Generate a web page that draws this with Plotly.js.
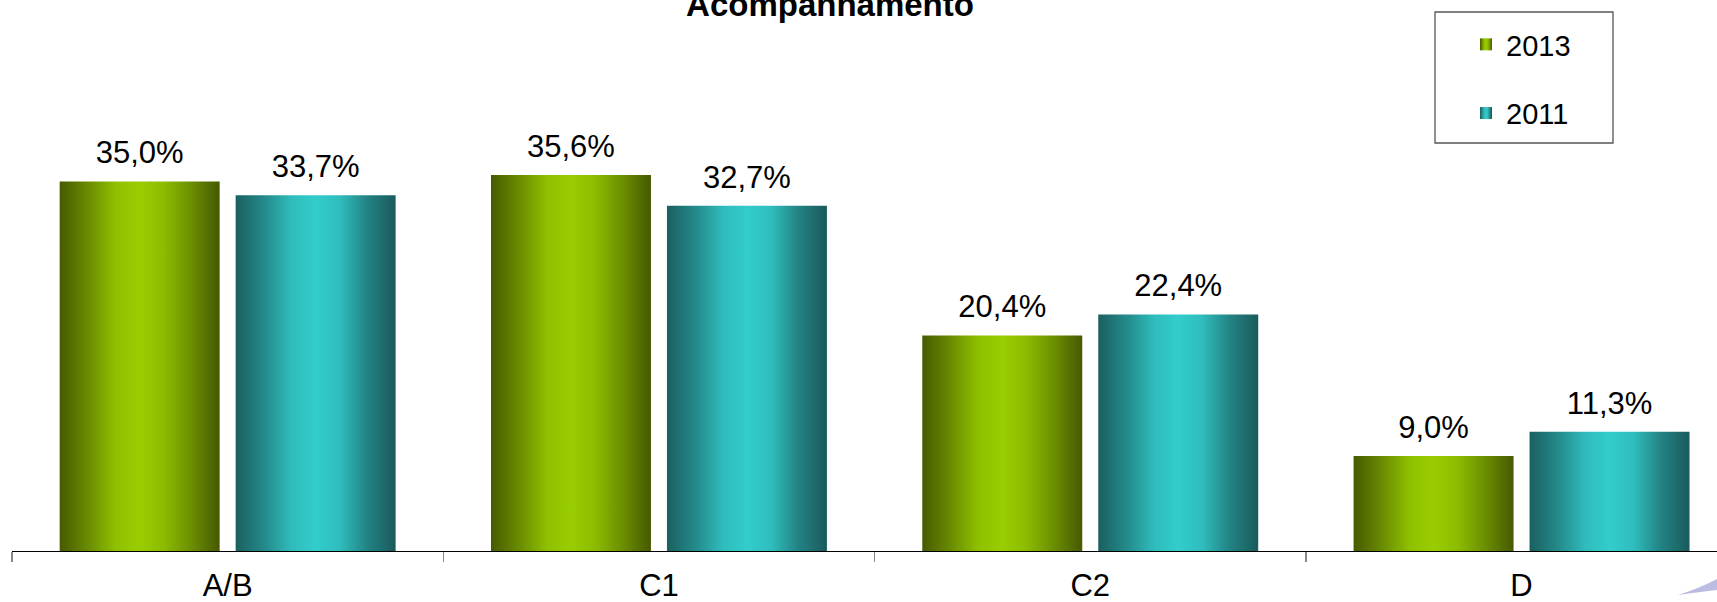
<!DOCTYPE html>
<html>
<head>
<meta charset="utf-8">
<script src="https://cdn.plot.ly/plotly-3.0.1.min.js"></script>
<style>html,body{margin:0;padding:0;background:#fff;}#chart{width:1717px;height:602px;}</style>
</head>
<body>
<div id="chart"></div>
<script>
const categories = ["A/B", "C1", "C2", "D"];
const values2013 = [35.0, 35.6, 20.4, 9.0];
const values2011 = [33.7, 32.7, 22.4, 11.3];
const seriesNames = ["2013", "2011"];
const chartTitle = "Acompanhamento";

const FONT = "Liberation Sans, Arial, sans-serif";
const W = 1717, H = 602;
const mL = 12, mR = 0, mT = 50, mB = 51;
const plotW = W - mL - mR, plotH = H - mT - mB;
const catPx = 431.3;          // pixel width of one category slot
const pxPerUnit = 10.56;      // vertical scale
const BARGAP = 0.184;
function px2paperX(px){ return (px - mL) / plotW; }
function px2paperY(py){ return (H - mB - py) / plotH; }

const baseColors = ["#8fbf00", "#2fbcbc"];
const seriesValues = [values2013, values2011];

const traces = [];
seriesValues.forEach(function(vals, i){
  traces.push({type: "bar", name: seriesNames[i], x: categories, y: vals, legendgroup: "g" + i,
    offsetgroup: "g" + i,
    marker: {color: baseColors[i], line: {width: 0}}, hoverinfo: "skip"});
});
// value labels: text-only scatter traces grouped like the bars
seriesValues.forEach(function(vals, i){
  traces.push({type: "scatter", mode: "markers+text", x: categories, y: vals, showlegend: false,
    offsetgroup: "g" + i,
    texttemplate: "%{y:.1f}%", textposition: "top center", cliponaxis: false,
    marker: {size: 15, opacity: 0, color: "rgba(0,0,0,0)"},
    textfont: {family: FONT, size: 31, color: "#000"}, hoverinfo: "skip"});
});

const layout = {
  width: W, height: H,
  margin: {l: mL, r: mR, t: mT, b: mB, pad: 0},
  paper_bgcolor: "#fff", plot_bgcolor: "#fff",
  separators: ",.",
  font: {family: FONT, color: "#000"},
  title: {text: chartTitle, font: {family: FONT, size: 33, weight: "bold", color: "#000"},
          xref: "container", yref: "container", x: 830 / W, xanchor: "center",
          y: 1 - 16 / H, yanchor: "bottom"},
  barmode: "group", bargap: BARGAP, bargroupgap: 0.0909,
  scattermode: "group", scattergap: BARGAP,
  showlegend: true,
  legend: {x: px2paperX(1466), xanchor: "left", y: px2paperY(19), yanchor: "top",
           traceorder: "grouped", tracegroupgap: 28, bgcolor: "rgba(0,0,0,0)",
           borderwidth: 0, font: {family: FONT, size: 29, color: "#000"}},
  xaxis: {type: "category", range: [-0.5, -0.5 + plotW / catPx], fixedrange: true,
          showgrid: false, zeroline: false, showline: true, linecolor: "#000", linewidth: 1.3,
          ticks: "outside", tickson: "boundaries", ticklen: 10, tickcolor: "#888", tickwidth: 1.3,
          ticklabelstandoff: 6,
          tickfont: {family: FONT, size: 31, color: "#000"}, automargin: false},
  yaxis: {visible: false, range: [0, plotH / pxPerUnit], fixedrange: true, showgrid: false, zeroline: false},
  shapes: [
    {type: "rect", xref: "paper", yref: "paper",
     x0: px2paperX(1435), x1: px2paperX(1613), y0: px2paperY(143), y1: px2paperY(12),
     line: {color: "#555", width: 1.3}, fillcolor: "rgba(0,0,0,0)", layer: "above"},
    {type: "path", xref: "paper", yref: "paper", layer: "above",
     path: "M " + px2paperX(1678) + "," + px2paperY(595) +
           " Q " + px2paperX(1700) + "," + px2paperY(588) + " " + px2paperX(1717) + "," + px2paperY(579) +
           " L " + px2paperX(1717) + "," + px2paperY(590) +
           " Q " + px2paperX(1700) + "," + px2paperY(592) + " " + px2paperX(1678) + "," + px2paperY(595) + " Z",
     fillcolor: "#bcbce2", line: {width: 0}}
  ]
};

const gd = document.getElementById("chart");
Plotly.newPlot(gd, traces, layout, {staticPlot: true, displayModeBar: false}).then(function(){
  const NS = "http://www.w3.org/2000/svg";
  const svg = gd.querySelector(".main-svg");
  let defs = svg.querySelector("defs");
  if (!defs) { defs = document.createElementNS(NS, "defs"); svg.insertBefore(defs, svg.firstChild); }
  const grads = [
    [[0, "#475a00"], [0.18, "#6a8c00"], [0.35, "#8fc000"], [0.5, "#9acd00"], [0.65, "#8cbc00"], [0.82, "#6c8f00"], [1, "#465900"]],
    [[0, "#1b5f60"], [0.18, "#248a8b"], [0.35, "#2fbcbc"], [0.5, "#33cccc"], [0.65, "#2fbdbd"], [0.82, "#238384"], [1, "#1a5a5b"]]
  ];
  grads.forEach(function(stops, i){
    const lg = document.createElementNS(NS, "linearGradient");
    lg.setAttribute("id", "barGrad" + i);
    lg.setAttribute("x1", "0"); lg.setAttribute("y1", "0");
    lg.setAttribute("x2", "1"); lg.setAttribute("y2", "0");
    stops.forEach(function(s){
      const st = document.createElementNS(NS, "stop");
      st.setAttribute("offset", s[0]);
      st.setAttribute("stop-color", s[1]);
      lg.appendChild(st);
    });
    defs.appendChild(lg);
  });
  gd.querySelectorAll(".barlayer .trace").forEach(function(tr, i){
    tr.querySelectorAll(".point path").forEach(function(p){ p.style.fill = "url(#barGrad" + i + ")"; });
  });
  gd.querySelectorAll(".legend .traces").forEach(function(tr, i){
    tr.querySelectorAll(".legendpoints path").forEach(function(p){ p.style.fill = "url(#barGrad" + i + ")"; });
  });
});
</script>
</body>
</html>
